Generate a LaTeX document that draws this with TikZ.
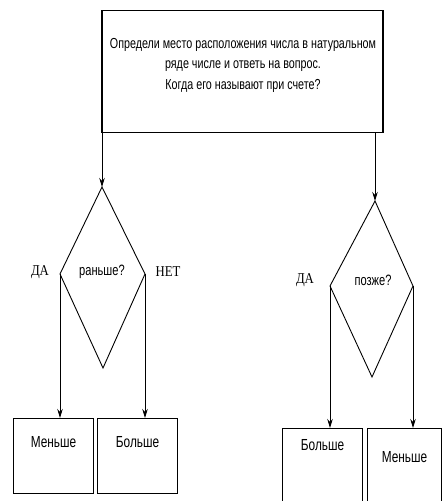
\documentclass[tikz,border=0pt]{standalone}
\usepackage{fontspec}
\setmainfont{Liberation Sans}[FakeStretch=0.74]
\newfontfamily\yesnofont{Liberation Serif}[FakeStretch=0.85]
\usetikzlibrary{arrows.meta}

\begin{document}
\begin{tikzpicture}[x=1pt,y=-1pt,
    ansbox/.style={draw,line width=1.1pt,minimum width=80pt,inner xsep=0pt,inner ysep=0pt,text height=29pt,text depth=46pt,font=\fontsize{16}{18}\selectfont,anchor=north west},
    rhomb/.style={draw,line width=0.9pt,line join=miter},
    flow/.style={draw,line width=0.9pt,-{Stealth[length=9pt,width=5.5pt]}},
    yesno/.style={font=\yesnofont\fontsize{15}{17}\selectfont},
    ask/.style={font=\fontsize{15}{17}\selectfont}]
\useasboundingbox (0,0) rectangle (442,501);

%Shape: Task box
\node [draw,line width=1.1pt,minimum width=281pt,minimum height=122pt,anchor=north] (task) at (242.5,10) {};
% Text Node
\node [align=center,inner sep=0pt,anchor=north,font=\fontsize{14.5}{20.5}\selectfont] (tasktext) at (243,38) {Определи место расположения числа в натуральном\\ряде числе и ответь на вопрос.\\Когда его называют при счете?};

%Shape: Diamond left
\coordinate (ln) at (102,187);
\coordinate (lw) at (60,274);
\coordinate (le) at (145,274);
\coordinate (ls) at (103,368);
\draw [rhomb] (ln) -- (le) -- (ls) -- (lw) -- cycle;
%Shape: Diamond right
\coordinate (rn) at (375,201);
\coordinate (rw) at (330,286);
\coordinate (re) at (413,286);
\coordinate (rs) at (372,377);
\draw [rhomb] (rn) -- (re) -- (rs) -- (rw) -- cycle;

%Shape: Answer boxes
\node [ansbox] (less1) at (13,418) {Меньше};
\node [ansbox] (more1) at (97,418) {Больше};
\node [ansbox,text height=22pt,text depth=53pt] (more2) at (282,428) {Больше};
\node [ansbox,minimum width=74pt,text height=34pt,text depth=41pt] (less2) at (367,428) {Меньше};

%Straight Lines
\draw [flow] (ln |- task.south) -- (ln);
\draw [flow] (rn |- task.south) -- (rn);
\draw [flow] (lw) -- (lw |- less1.north);
\draw [flow] (le) -- (le |- more1.north);
\draw [flow] (rw) -- (rw |- more2.north);
\draw [flow] (re) -- (re |- less2.north);

% Text Node
\node [yesno] (yes1) at (40,272) {ДА};
\node [ask] (early) at (102,272) {раньше?};
\node [yesno] (no1) at (168,272) {НЕТ};
% Text Node
\node [yesno] (yes2) at (305,280) {ДА};
\node [ask] (late) at (373,280) {позже?};

\end{tikzpicture}
\end{document}
